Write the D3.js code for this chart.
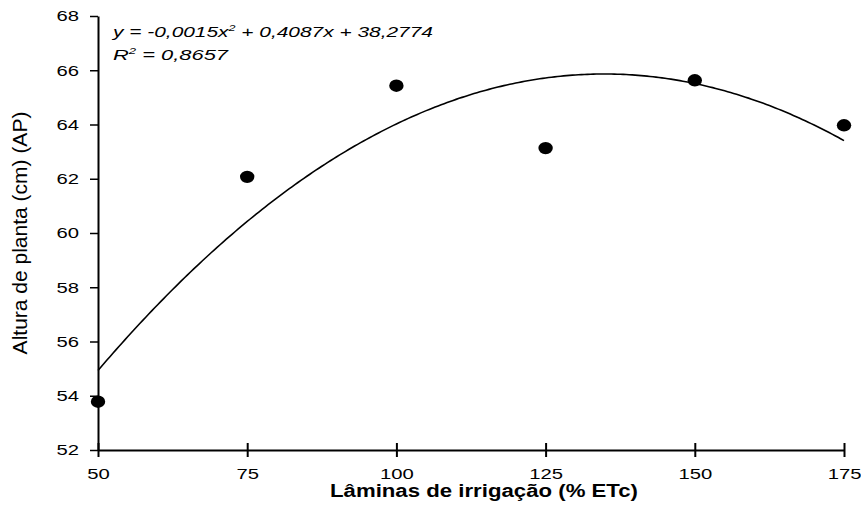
<!DOCTYPE html>
<html>
<head>
<meta charset="utf-8">
<script src="https://cdn.jsdelivr.net/npm/d3@7"></script>
<style>
  body { margin: 0; background: #fff; }
  text { font-family: "Liberation Sans", Arial, sans-serif; fill: #000; }
</style>
</head>
<body>
<div id="chart"></div>
<script>
var width = 861;
var height = 522;

// data
var laminas = [50, 75, 100, 125, 150, 175];
var altura = [53.78, 62.07, 65.43, 63.13, 65.63, 63.97];
var xTicks = [50, 75, 100, 125, 150, 175];
var yTicks = [52, 54, 56, 58, 60, 62, 64, 66, 68];
var equationText = "y = -0,0015x";
var equationRest = " + 0,4087x + 38,2774";
var r2Text = " = 0,8657";

// the picture's glyphs are stretched sideways
var stretch = 1.35;

// least squares quadratic fit of the points (same as the trend line)
var quadFit = function(xs, ys){
  var s = [0,0,0,0,0], t = [0,0,0];
  xs.forEach(function(x, i){
    for (var k = 0; k < 5; k++) s[k] += Math.pow(x, k);
    for (var k = 0; k < 3; k++) t[k] += Math.pow(x, k) * ys[i];
  });
  var m = [[s[0], s[1], s[2], t[0]], [s[1], s[2], s[3], t[1]], [s[2], s[3], s[4], t[2]]];
  for (var i = 0; i < 3; i++){
    for (var j = i + 1; j < 3; j++){
      var f = m[j][i] / m[i][i];
      for (var k = i; k < 4; k++) m[j][k] -= f * m[i][k];
    }
  }
  var c = [0,0,0];
  for (var i = 2; i >= 0; i--){
    var v = m[i][3];
    for (var k = i + 1; k < 3; k++) v -= m[i][k] * c[k];
    c[i] = v / m[i][i];
  }
  return function(x){ return c[0] + c[1]*x + c[2]*x*x; };
};

var svg = d3.select("#chart").append("svg")
  .attr("width", width)
  .attr("height", height);

var x = d3.scaleLinear().domain([50, 175]).range([98, 844]);
var y = d3.scaleLinear().domain([52, 68]).range([450, 16]);

var xAxis = svg.append("g")
  .attr("transform", "translate(0,450)")
  .call(d3.axisBottom(x).tickValues(xTicks).tickSizeInner(7).tickSizeOuter(0).tickPadding(11));
xAxis.selectAll(".tick line").attr("y1", -7).attr("stroke-width", 2);
xAxis.select(".domain").attr("stroke-width", 2);
xAxis.selectAll("text")
  .style("font-size", "15px")
  .attr("transform", "scale(" + stretch + ",1)");

var yAxis = svg.append("g")
  .attr("transform", "translate(98,0)")
  .call(d3.axisLeft(y).tickValues(yTicks).tickSizeInner(8).tickSizeOuter(0));
yAxis.select(".domain").attr("stroke-width", 2);
yAxis.selectAll(".tick line").attr("stroke-width", 1.5);
yAxis.selectAll("text")
  .style("font-size", "15px")
  .attr("x", 0)
  .attr("transform", "translate(-19,0) scale(" + stretch + ",1)");

// trend line
var fit = quadFit(laminas, altura);
var curve = d3.range(50, 175.5, 0.5);
svg.append("path")
  .datum(curve)
  .attr("fill", "none")
  .attr("stroke", "#000")
  .attr("stroke-width", 1.6)
  .attr("d", d3.line().x(function(d){ return x(d); }).y(function(d){ return y(fit(d)); }));

svg.selectAll("ellipse.pt")
  .data(laminas)
  .enter()
  .append("ellipse")
  .attr("class", "pt")
  .attr("cx", function(d){ return x(d); })
  .attr("cy", function(d, i){ return y(altura[i]); })
  .attr("rx", 7.2)
  .attr("ry", 6.2)
  .attr("fill", "#000");

// equation
var eq = svg.append("text")
  .attr("x", 113)
  .attr("y", 37)
  .attr("textLength", 320)
  .attr("lengthAdjust", "spacingAndGlyphs")
  .style("font-size", "15px")
  .style("font-style", "italic");
eq.append("tspan").text(equationText);
eq.append("tspan").attr("dy", -6).style("font-size", "9px").text("2");
eq.append("tspan").attr("dy", 6).text(equationRest);

var r2 = svg.append("text")
  .attr("x", 113)
  .attr("y", 60)
  .attr("textLength", 115)
  .attr("lengthAdjust", "spacingAndGlyphs")
  .style("font-size", "15px")
  .style("font-style", "italic");
r2.append("tspan").text("R");
r2.append("tspan").attr("dy", -6).style("font-size", "9px").text("2");
r2.append("tspan").attr("dy", 6).text(r2Text);

// axis titles
svg.append("text")
  .attr("transform", "translate(27,233) rotate(-90)")
  .attr("text-anchor", "middle")
  .style("font-size", "21px")
  .text("Altura de planta (cm) (AP)");

svg.append("text")
  .attr("x", 330)
  .attr("y", 497)
  .attr("textLength", 308)
  .attr("lengthAdjust", "spacingAndGlyphs")
  .style("font-size", "17.5px")
  .style("font-weight", "bold")
  .text("Lâminas de irrigação (% ETc)");
</script>
</body>
</html>
